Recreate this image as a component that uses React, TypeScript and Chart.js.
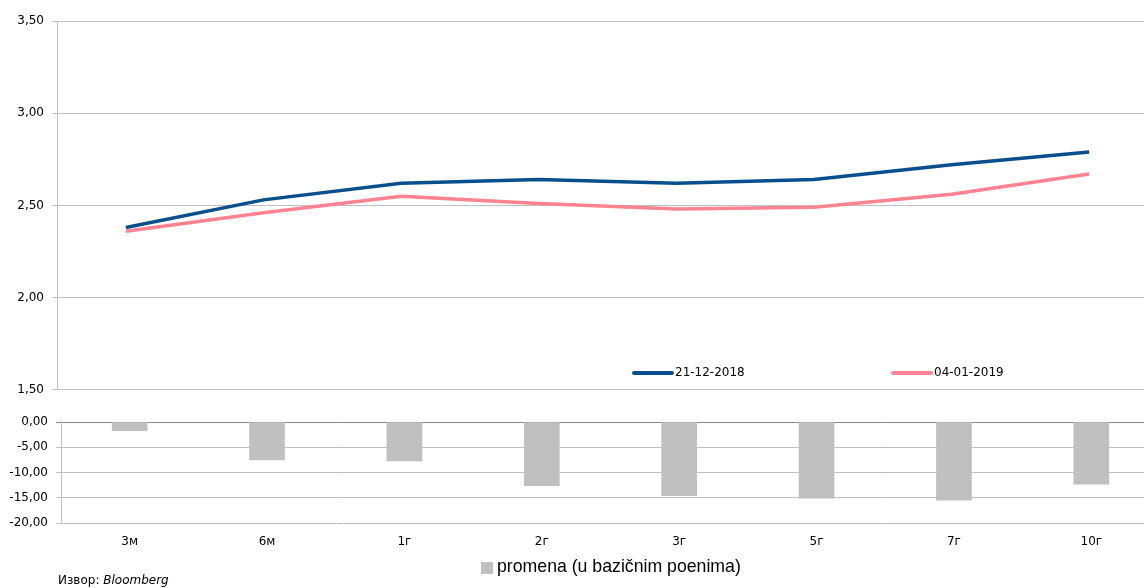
import React, { useEffect, useRef } from "react";
import { Chart, registerables } from "chart.js";

Chart.register(...registerables);

const categories = ["3м", "6м", "1г", "2г", "3г", "5г", "7г", "10г"];
const series1Label = "21-12-2018";
const series1 = [2.38, 2.53, 2.62, 2.64, 2.62, 2.64, 2.72, 2.79];
const series2Label = "04-01-2019";
const series2 = [2.36, 2.46, 2.55, 2.51, 2.48, 2.49, 2.56, 2.67];
const changeLabel = "promena (u bazičnim poenima)";
const change = [-1.7, -7.5, -7.7, -12.6, -14.6, -15.1, -15.5, -12.3];
const topRange = [1.5, 3.5];
const bottomRange = [-20, 0];
const sourceLabel = "Извор: ";
const sourceName = "Bloomberg";

const FONT = "'DejaVu Sans', 'Liberation Sans', Arial, sans-serif";
const LEG_FONT = "'Liberation Sans', Arial, sans-serif";
const BLUE = "#0A4F8D";
const PINK = "#FF8391";
const GRAY = "#C0C0C0";

const fmt = (v: number) => v.toFixed(2).replace(".", ",");

const fixedLegend = {
  id: "fixedLegend",
  afterDraw(chart: any, _args: any, opts: any) {
    if (!opts || !opts.items) return;
    const ctx = chart.ctx;
    ctx.save();
    ctx.font = `${opts.fontSize}px ${opts.family}`;
    ctx.fillStyle = "#000";
    ctx.textBaseline = "middle";
    ctx.textAlign = "left";
    chart.data.datasets.forEach((ds: any, i: number) => {
      const it = opts.items[i];
      if (!it) return;
      if (opts.kind === "line") {
        ctx.strokeStyle = ds.borderColor;
        ctx.lineWidth = 4;
        ctx.lineCap = "round";
        ctx.beginPath();
        ctx.moveTo(it.x, it.y);
        ctx.lineTo(it.x + 38, it.y);
        ctx.stroke();
        ctx.fillStyle = "#000";
        ctx.fillText(ds.label, it.x + 41, it.y);
      } else {
        ctx.fillStyle = ds.backgroundColor;
        ctx.fillRect(it.x, it.y - 6, 12, 12);
        ctx.fillStyle = "#000";
        ctx.fillText(ds.label, it.x + 16, it.y - 1);
      }
    });
    ctx.restore();
  },
};

export default function App() {
  const topRef = useRef<HTMLCanvasElement>(null);
  const botRef = useRef<HTMLCanvasElement>(null);

  useEffect(() => {
    const top = new Chart(topRef.current!, {
      type: "line",
      data: {
        labels: categories,
        datasets: [
          {
            label: series1Label,
            data: series1,
            borderColor: BLUE,
            backgroundColor: BLUE,
            borderWidth: 3.5,
            pointRadius: 0,
            tension: 0,
          },
          {
            label: series2Label,
            data: series2,
            borderColor: PINK,
            backgroundColor: PINK,
            borderWidth: 3.5,
            pointRadius: 0,
            tension: 0,
          },
        ],
      },
      options: {
        animation: false,
        responsive: false,
        maintainAspectRatio: false,
        layout: { padding: { top: 21, bottom: 6, left: 0, right: 0 } },
        plugins: {
          legend: { display: false },
          tooltip: { enabled: false },
          fixedLegend: {
            kind: "line",
            fontSize: 12,
            family: FONT,
            items: [
              { x: 634, y: 373 },
              { x: 893, y: 373 },
            ],
          },
        } as any,
        scales: {
          x: {
            type: "category",
            offset: true,
            display: false,
          },
          y: {
            min: topRange[0],
            max: topRange[1],
            ticks: {
              stepSize: 0.5,
              callback: (v: any) => fmt(Number(v)),
              color: "#000",
              font: { family: FONT, size: 12 },
              padding: 8,
            },
            grid: { color: GRAY, tickLength: 5, lineWidth: 1 },
            border: { color: GRAY, width: 1 },
            afterFit: (s: any) => {
              s.width = 57;
            },
          },
        },
      },
      plugins: [fixedLegend],
    });

    const bot = new Chart(botRef.current!, {
      type: "bar",
      data: {
        labels: categories,
        datasets: [
          {
            label: changeLabel,
            data: change,
            backgroundColor: GRAY,
            borderWidth: 0,
            barThickness: 35,
          },
        ],
      },
      options: {
        animation: false,
        responsive: false,
        maintainAspectRatio: false,
        layout: { padding: { top: 22, bottom: 35, left: 0, right: 0 } },
        plugins: {
          legend: { display: false },
          tooltip: { enabled: false },
          fixedLegend: {
            kind: "box",
            fontSize: 17.7,
            family: LEG_FONT,
            items: [{ x: 481, y: 168 }],
          },
        } as any,
        scales: {
          x: {
            type: "category",
            offset: true,
            grid: { display: false, drawTicks: false },
            border: { display: false },
            ticks: {
              color: "#000",
              font: { family: FONT, size: 12 },
              padding: 12,
            },
            afterFit: (s: any) => {
              s.height = 30;
            },
          },
          y: {
            min: bottomRange[0],
            max: bottomRange[1],
            ticks: {
              stepSize: 5,
              callback: (v: any) => fmt(Number(v)),
              color: "#000",
              font: { family: FONT, size: 12 },
              padding: 8,
            },
            grid: {
              color: (c: any) => (c.tick && c.tick.value === 0 ? "#8A8A8A" : GRAY),
              tickLength: 5,
              lineWidth: 1,
            },
            border: { color: GRAY, width: 1 },
            afterFit: (s: any) => {
              s.width = 61;
            },
          },
        },
      },
      plugins: [fixedLegend],
    });

    return () => {
      top.destroy();
      bot.destroy();
    };
  }, []);

  return (
    <div
      style={{
        position: "fixed",
        left: 0,
        top: 0,
        width: 1144,
        height: 588,
        overflow: "hidden",
        background: "#fff",
      }}
    >
      <canvas
        ref={topRef}
        width={1158}
        height={405}
        style={{ position: "absolute", left: 0, top: 0, width: 1158, height: 405 }}
      />
      <canvas
        ref={botRef}
        width={1160}
        height={188}
        style={{ position: "absolute", left: 0, top: 400, width: 1160, height: 188 }}
      />
      <div
        style={{
          position: "absolute",
          left: 58,
          top: 573,
          fontFamily: FONT,
          fontSize: 12,
          color: "#000",
          whiteSpace: "nowrap",
          lineHeight: "14px",
        }}
      >
        {sourceLabel}
        <i>{sourceName}</i>
      </div>
    </div>
  );
}
